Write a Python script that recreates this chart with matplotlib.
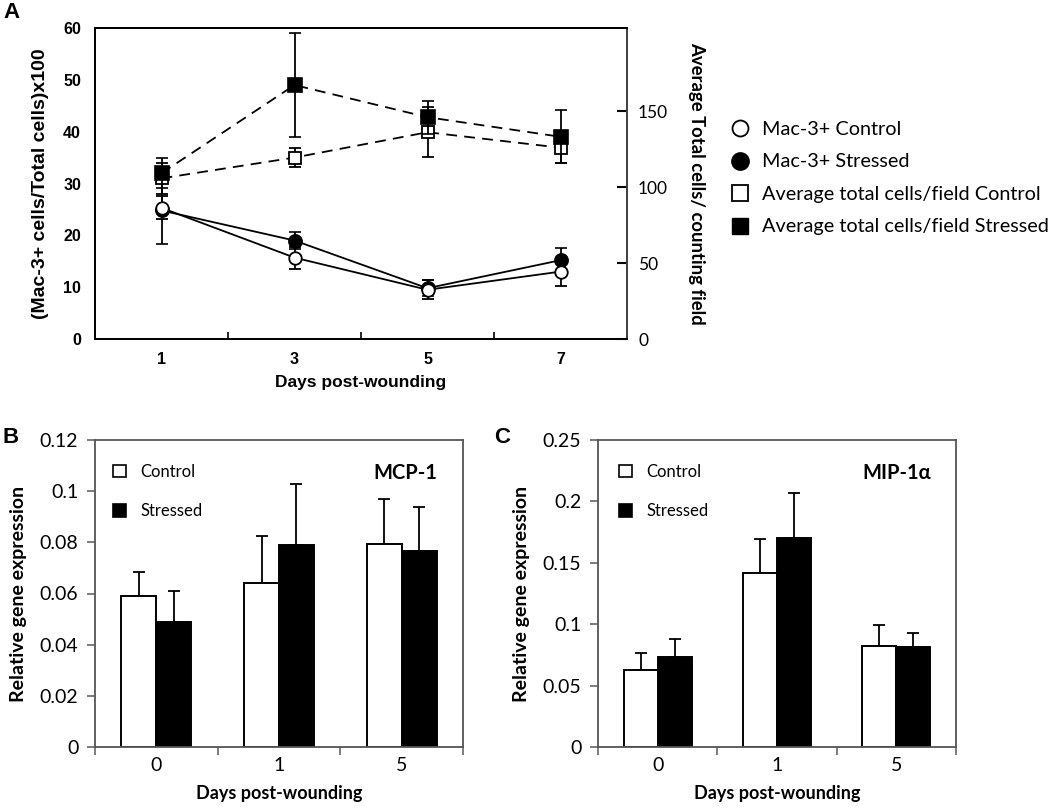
import matplotlib
matplotlib.use('Agg')
import matplotlib.pyplot as plt
import numpy as np
from matplotlib.lines import Line2D
from matplotlib.patches import Patch
from matplotlib.ticker import FixedLocator, FuncFormatter

# ---------------- Data ----------------
days_a = [1, 3, 5, 7]
mac_ctrl = [25.3, 15.7, 9.5, 13.0]
mac_ctrl_err = [2.2, 2.1, 1.8, 2.7]
mac_str = [24.8, 19.0, 9.8, 15.2]
mac_str_err = [6.5, 1.7, 1.5, 2.4]
tot_ctrl = [105.9, 119.6, 136.3, 126.1]
tot_ctrl_err = [10.2, 6.2, 16.4, 9.9]
tot_str = [109.3, 167.4, 146.2, 133.3]
tot_str_err = [10.0, 34.2, 10.9, 17.4]

days_bc = ['0', '1', '5']
mcp_ctrl = [0.059, 0.0642, 0.0792]
mcp_ctrl_err = [0.0095, 0.0182, 0.0177]
mcp_str = [0.049, 0.079, 0.0767]
mcp_str_err = [0.0121, 0.0238, 0.0170]

mip_ctrl = [0.0625, 0.1418, 0.0823]
mip_ctrl_err = [0.0144, 0.0272, 0.0174]
mip_str = [0.0734, 0.1704, 0.0815]
mip_str_err = [0.0149, 0.0366, 0.0117]

NARROW = ['Liberation Sans Narrow', 'Liberation Sans', 'DejaVu Sans']
ARIAL = ['Liberation Sans', 'DejaVu Sans']
CAL = ['Lato', 'DejaVu Sans']

W, H = 1050, 807
fig = plt.figure(figsize=(W / 100, H / 100), dpi=100)


def fr(l, t, r, b):
    return [l / W, (H - b) / H, (r - l) / W, (b - t) / H]


# ---------------- Panel A ----------------
axA = fig.add_axes(fr(95, 28, 627, 339))
axA2 = axA.twinx()
lw = 1.3
axA.errorbar(days_a, mac_str, yerr=mac_str_err, fmt='-o', color='black',
             mfc='black', mec='black', ms=9.5, mew=1.2, lw=lw, capsize=4,
             elinewidth=lw, capthick=lw, zorder=3)
axA.errorbar(days_a, mac_ctrl, yerr=mac_ctrl_err, fmt='-o', color='black',
             mfc='white', mec='black', ms=9, mew=1.3, lw=lw, capsize=4,
             elinewidth=lw, capthick=lw, zorder=4)
e1 = axA2.errorbar(days_a, tot_ctrl, yerr=tot_ctrl_err, fmt='--s', color='black',
                   mfc='white', mec='black', ms=9, mew=1.3, lw=lw, capsize=4,
                   elinewidth=lw, capthick=lw, zorder=3)
e2 = axA2.errorbar(days_a, tot_str, yerr=tot_str_err, fmt='--s', color='black',
                   mfc='black', mec='black', ms=9.5, mew=1.2, lw=lw, capsize=4,
                   elinewidth=lw, capthick=lw, zorder=4)
e1[0].set_dashes([6, 4])
e2[0].set_dashes([6, 4])

axA.set_xlim(0, 8)
axA.set_ylim(0, 60)
axA2.set_ylim(0, 205)
axA.set_yticks(np.arange(0, 61, 10))
axA.tick_params(axis='y', length=0, pad=10)
for t in axA.get_yticklabels():
    t.set_fontfamily(ARIAL)
    t.set_fontweight('bold')
    t.set_fontsize(11.5)
axA.xaxis.set_major_locator(FixedLocator([2, 4, 6]))
axA.xaxis.set_minor_locator(FixedLocator(days_a))
axA.xaxis.set_major_formatter(FuncFormatter(lambda v, p: ''))
axA.xaxis.set_minor_formatter(FuncFormatter(lambda v, p: '%d' % v))
axA.tick_params(axis='x', which='major', direction='in', length=5, width=1.2)
axA.tick_params(axis='x', which='minor', length=0, pad=9)
for t in axA.xaxis.get_minorticklabels():
    t.set_fontfamily(ARIAL)
    t.set_fontweight('bold')
    t.set_fontsize(11.5)
axA2.set_yticks([0, 50, 100, 150])
axA2.tick_params(axis='y', direction='in', length=7, width=1.5, pad=8)
for t in axA2.get_yticklabels():
    t.set_fontfamily(CAL)
    t.set_fontsize(12.5)
for ax in (axA, axA2):
    for s in ax.spines.values():
        s.set_linewidth(1.4)
        s.set_color('black')
axA2.spines['right'].set_color('#444444')
axA.set_ylabel('(Mac-3+ cells/Total cells)x100', fontfamily=NARROW,
               fontweight='bold', fontsize=14, labelpad=10)
axA2.set_ylabel('Average Total cells/ counting field', fontfamily=CAL,
                fontweight='bold', fontsize=13.3, rotation=270, va='bottom',
                labelpad=14)
axA.set_xlabel('Days post-wounding', fontfamily=NARROW, fontweight='bold',
               fontsize=12.5, labelpad=6)

leg_handles = [
    Line2D([], [], ls='none', marker='o', ms=11.5, mfc='white', mec='black', mew=1.3),
    Line2D([], [], ls='none', marker='o', ms=12.5, mfc='black', mec='black'),
    Line2D([], [], ls='none', marker='s', ms=11, mfc='white', mec='black', mew=1.3),
    Line2D([], [], ls='none', marker='s', ms=11.5, mfc='black', mec='black'),
]
leg_labels = ['Mac-3+ Control', 'Mac-3+ Stressed',
              'Average total cells/field Control', 'Average total cells/field Stressed']
fig.legend(leg_handles, leg_labels, loc='upper left',
           bbox_to_anchor=(730 / W, (H - 121) / H), frameon=False,
           prop={'family': CAL, 'size': 14.3}, handlelength=1.0,
           handletextpad=0.6, labelspacing=0.78, borderpad=0, borderaxespad=0)

fig.text(3 / W, 1 - 2 / H, 'A', fontfamily=ARIAL, fontweight='bold',
         fontsize=16, va='top', ha='left')


# ---------------- Panels B & C ----------------
def bar_panel(rect, ctrl, ctrl_err, stress, stress_err, ymax, ystep, title,
              leg_x, title_x):
    ax = fig.add_axes(rect)
    x = np.arange(len(days_bc))
    w = 0.285
    ax.bar(x - w / 2, ctrl, w, color='white', edgecolor='black', lw=1.4,
           zorder=2)
    ax.bar(x + w / 2, stress, w, color='black', edgecolor='black', lw=1.4,
           zorder=2)
    ax.errorbar(x - w / 2, ctrl, yerr=[np.zeros(len(x)), ctrl_err], fmt='none',
                ecolor='black', elinewidth=1.3, capsize=4, capthick=1.3, zorder=1)
    ax.errorbar(x + w / 2, stress, yerr=[np.zeros(len(x)), stress_err], fmt='none',
                ecolor='black', elinewidth=1.3, capsize=4, capthick=1.3, zorder=1)
    ax.set_xlim(-0.5, len(x) - 0.5)
    ax.set_ylim(0, ymax)
    ax.set_yticks(np.arange(0, ymax + ystep / 2, ystep))
    ax.yaxis.set_major_formatter(FuncFormatter(lambda v, p: '%g' % round(v, 4)))
    ax.xaxis.set_major_locator(FixedLocator(np.arange(len(x) + 1) - 0.5))
    ax.xaxis.set_minor_locator(FixedLocator(x))
    ax.xaxis.set_major_formatter(FuncFormatter(lambda v, p: ''))
    ax.xaxis.set_minor_formatter(FuncFormatter(lambda v, p: days_bc[int(round(v))]))
    ax.tick_params(axis='x', which='major', direction='out', length=6,
                   width=1.2, color='#666666')
    ax.tick_params(axis='x', which='minor', length=0, pad=7)
    ax.tick_params(axis='y', direction='out', length=6, width=1.2,
                   color='#666666', pad=6)
    for t in ax.get_yticklabels() + ax.xaxis.get_minorticklabels():
        t.set_fontfamily(CAL)
        t.set_fontsize(14)
    for s in ax.spines.values():
        s.set_linewidth(1.3)
        s.set_color('#555555')
    ax.set_ylabel('Relative gene expression', fontfamily=CAL, fontweight='bold',
                  fontsize=14, labelpad=9)
    ax.set_xlabel('Days post-wounding', fontfamily=CAL, fontweight='bold',
                  fontsize=13, labelpad=8)
    handles = [Patch(facecolor='white', edgecolor='black', lw=1.2),
               Patch(facecolor='black', edgecolor='black', lw=1.2)]
    ax.legend(handles, ['Control', 'Stressed'], loc='upper left',
              bbox_to_anchor=(leg_x, 0.922), frameon=False,
              prop={'family': CAL, 'size': 12}, handlelength=0.75,
              handleheight=0.75, handletextpad=0.87, labelspacing=1.4,
              borderpad=0, borderaxespad=0)
    ax.text(title_x, 0.893, title, transform=ax.transAxes, ha='center',
            va='center', fontfamily=CAL, fontweight='bold', fontsize=14.5)
    return ax


bar_panel(fr(95, 440, 463, 747), mcp_ctrl, mcp_ctrl_err, mcp_str, mcp_str_err,
          0.12, 0.02, 'MCP-1', 0.049, 0.842)
bar_panel(fr(598, 440, 956, 747), mip_ctrl, mip_ctrl_err, mip_str, mip_str_err,
          0.25, 0.05, 'MIP-1α', 0.059, 0.835)

fig.text(3 / W, 1 - 427 / H, 'B', fontfamily=ARIAL, fontweight='bold',
         fontsize=16, va='top', ha='left')
fig.text(494 / W, 1 - 427 / H, 'C', fontfamily=ARIAL, fontweight='bold',
         fontsize=16, va='top', ha='left')

fig.savefig('out.png', dpi=100, facecolor='white')
